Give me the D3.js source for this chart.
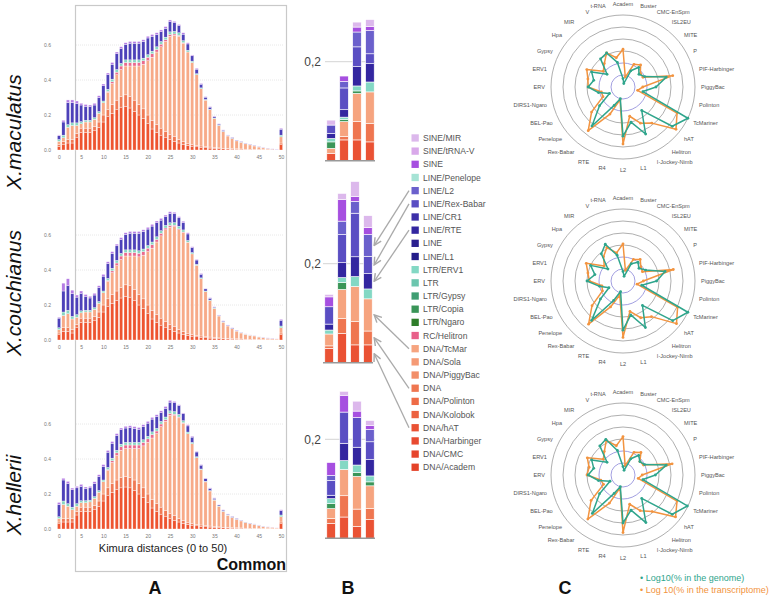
<!DOCTYPE html>
<html>
<head>
<meta charset="utf-8">
<script src="https://cdn.jsdelivr.net/npm/d3@7"></script>
<style>
  body { margin: 0; background: #fff; }
  svg { display: block; font-family: "Liberation Sans", Arial, sans-serif; }
</style>
</head>
<body>
<svg id="fig" width="775" height="599"></svg>
<script>
// ---------------- Panel A data (Kimura 0..50) ----------------
const kimura = d3.range(0, 51);
const aKeys = ["hat", "dna", "tcmar", "rc", "ltr", "line", "sine"];
const aColors = { hat: "#ee5430", dna: "#f07a55", tcmar: "#f7aa88", rc: "#ea6a8e", ltr: "#86d6c2", line: "#4d41b9", sine: "#b57ce4" };

const macHat = [.02,.03,.04,.04,.07,.10,.10,.10,.11,.13,.16,.19,.21,.23,.245,.25,.24,.22,.20,.18,.15,.12,.10,.085,.07,.06,.05,.04,.033,.027,.022,.018,.015,.013,.011,.01,.008,.007,.006,.005,.004,.003,.003,.002,.002,.002,.001,.001,.001,.001,.03];
const macDna = [.01,.02,.02,.02,.025,.025,.025,.025,.025,.03,.04,.04,.05,.055,.06,.065,.065,.065,.06,.055,.05,.05,.045,.04,.035,.03,.028,.02,.016,.012,.01,.009,.008,.006,.006,.005,.004,.003,.003,.003,.003,.003,.002,.002,.002,.001,.001,.001,.001,0,.01];
const macTcmar = [.02,.02,.07,.08,.045,.025,.035,.035,.04,.05,.07,.10,.12,.145,.155,.165,.175,.195,.22,.255,.31,.36,.415,.465,.515,.56,.577,.59,.561,.521,.468,.403,.327,.266,.213,.165,.128,.095,.071,.058,.045,.038,.03,.025,.019,.014,.01,.007,.003,.002,.035];
const macRc = [0,0,0,0,0,0,0,0,0,0,0,.005,.01,.015,.02,.02,.02,.02,.02,.02,.02,.02,.015,.015,.01,.01,.008,.005,.003,0,0,0,0,0,0,0,0,0,0,0,0,0,0,0,0,0,0,0,0,0,0];
const macLtr = [.01,.015,.015,.015,.015,.012,.01,.01,.01,.01,.01,.012,.015,.015,.015,.015,.015,.015,.015,.015,.015,.015,.015,.015,.015,.015,.015,.015,.012,.01,.008,.006,.005,.004,.003,.003,.002,.002,.001,.001,.001,.001,.001,.001,.001,.001,.001,0,0,0,.01];
const macLine = [.021,.075,.126,.116,.11,.095,.08,.077,.072,.08,.087,.083,.085,.09,.085,.088,.095,.095,.095,.095,.095,.085,.07,.056,.05,.058,.049,.04,.037,.036,.03,.026,.021,.013,.012,.008,.006,.006,.004,.004,.003,.003,.002,.002,.002,.002,.001,.001,.001,.001,.034];
const macSine = [.005,.01,.015,.015,.015,.01,.01,.01,.01,.01,.01,.01,.01,.01,.01,.01,.01,.01,.01,.01,.01,.01,.01,.01,.01,.01,.008,.007,.008,.007,.005,.005,.004,.003,.003,.002,.002,.002,.001,.001,.001,.001,.001,.001,.001,.001,.001,.001,.001,.001,.005];

const couHat = [.03,.05,.05,.04,.07,.10,.10,.10,.11,.13,.16,.19,.21,.225,.24,.25,.245,.225,.20,.18,.15,.12,.10,.085,.07,.06,.05,.04,.033,.027,.022,.018,.015,.013,.011,.01,.008,.007,.006,.005,.004,.003,.003,.002,.002,.002,.001,.001,.001,.001,.03];
const couDna = [.01,.02,.02,.02,.02,.025,.025,.025,.025,.03,.04,.045,.05,.055,.06,.065,.065,.065,.06,.055,.05,.05,.045,.04,.035,.03,.028,.02,.016,.012,.01,.009,.008,.006,.006,.005,.004,.003,.003,.003,.003,.003,.002,.002,.002,.001,.001,.001,.001,.001,.01];
const couTcmar = [.02,.07,.08,.06,.04,.03,.035,.035,.04,.05,.07,.10,.125,.145,.16,.165,.17,.19,.215,.25,.305,.355,.415,.47,.525,.555,.57,.57,.565,.52,.46,.40,.327,.257,.208,.165,.125,.092,.071,.056,.044,.034,.028,.023,.019,.014,.011,.008,.005,.004,.03];
const couRc = [0,0,0,0,0,0,0,0,0,0,0,.005,.01,.015,.02,.02,.02,.02,.02,.02,.02,.02,.015,.015,.01,.01,.008,.005,.003,0,0,0,0,0,0,0,0,0,0,0,0,0,0,0,0,0,0,0,0,0,0];
const couLtr = [.01,.02,.02,.015,.015,.012,.01,.01,.01,.01,.01,.012,.015,.015,.015,.015,.015,.015,.015,.015,.015,.015,.015,.015,.015,.015,.015,.015,.012,.01,.008,.006,.005,.004,.003,.003,.002,.002,.001,.001,.001,.001,.001,.001,.001,.001,.001,0,0,0,.01];
const couLine = [.055,.12,.14,.13,.10,.10,.08,.07,.072,.08,.085,.085,.085,.083,.08,.088,.095,.095,.10,.10,.094,.091,.08,.06,.049,.053,.051,.048,.042,.037,.028,.024,.021,.012,.011,.005,.002,.004,.003,.003,.003,.001,0,0,0,0,.001,.001,.001,0,.033];
const couSine = [.005,.045,.04,.02,.012,.013,.01,.01,.01,.01,.01,.01,.01,.01,.01,.01,.01,.01,.01,.01,.01,.01,.01,.01,.01,.01,.008,.007,.008,.007,.005,.004,.004,.003,.003,.002,.002,.002,.002,.002,.002,.001,.001,.001,.001,.001,.001,.001,.001,.001,.005];

const helHat = [.03,.04,.04,.04,.08,.10,.10,.10,.11,.13,.16,.19,.21,.225,.235,.24,.235,.22,.20,.18,.15,.12,.10,.085,.07,.06,.05,.04,.033,.027,.022,.018,.015,.013,.011,.01,.008,.007,.006,.005,.004,.003,.003,.002,.002,.002,.001,.001,.001,.001,.03];
const helDna = [.01,.02,.02,.02,.02,.025,.025,.025,.025,.03,.04,.045,.05,.055,.06,.06,.06,.06,.06,.055,.05,.05,.045,.04,.035,.03,.028,.02,.016,.012,.01,.009,.008,.006,.006,.005,.004,.003,.003,.003,.003,.003,.002,.002,.002,.001,.001,.001,.001,.001,.01];
const helTcmar = [.02,.08,.07,.05,.03,.025,.025,.03,.04,.05,.07,.10,.12,.14,.155,.16,.165,.18,.20,.24,.295,.35,.40,.46,.51,.56,.57,.575,.555,.505,.455,.38,.315,.25,.20,.15,.118,.09,.07,.058,.048,.04,.033,.026,.022,.017,.012,.009,.007,.004,.03];
const helRc = [0,0,0,0,0,0,0,0,0,0,0,.005,.01,.015,.02,.02,.02,.02,.02,.02,.02,.02,.015,.015,.01,.01,.008,.005,.003,0,0,0,0,0,0,0,0,0,0,0,0,0,0,0,0,0,0,0,0,0,0];
const helLtr = [.01,.02,.015,.015,.015,.012,.012,.01,.01,.01,.01,.012,.015,.015,.015,.015,.015,.015,.015,.015,.015,.015,.015,.015,.015,.015,.015,.015,.012,.01,.008,.006,.005,.004,.003,.003,.002,.002,.001,.001,.001,.001,.001,.001,.001,.001,.001,0,0,0,.01];
const helLine = [.07,.12,.115,.10,.09,.082,.07,.07,.075,.08,.078,.087,.085,.085,.082,.082,.085,.08,.075,.076,.075,.073,.068,.05,.05,.05,.05,.05,.04,.035,.03,.027,.022,.014,.012,.008,.006,.006,.005,.004,.004,.002,.002,.002,.001,.001,.001,.001,0,0,.025];
const helSine = [.012,.01,.012,.009,.009,.011,.008,.009,.01,.01,.01,.01,.01,.01,.01,.01,.01,.01,.01,.01,.01,.01,.01,.01,.01,.01,.008,.005,.004,.007,.005,.004,.003,.003,.003,.002,.001,.002,.001,.001,.001,.001,.001,.001,.001,.001,.001,.001,.001,.001,.005];

const speciesNames = ["X.maculatus", "X.couchianus", "X.hellerii"];

// ---------------- Panel B data (4 bars per species) ----------------
const legendCats = ["SINE/MIR","SINE/tRNA-V","SINE","LINE/Penelope","LINE/L2","LINE/Rex-Babar","LINE/CR1","LINE/RTE","LINE","LINE/L1",
  "LTR/ERV1","LTR","LTR/Gypsy","LTR/Copia","LTR/Ngaro","RC/Helitron","DNA/TcMar","DNA/Sola","DNA/PiggyBac","DNA",
  "DNA/Polinton","DNA/Kolobok","DNA/hAT","DNA/Harbinger","DNA/CMC","DNA/Academ"];
const legendColors = ["#dcb8ec","#d9a9ea","#a64fe0","#a6e3d5","#6b60cc","#5a4ec3","#3d2fa8","#3326a0","#2b1f8f","#241d8a",
  "#83d8c4","#6cc6ae","#3f9e72","#3a9558","#2e7d2a","#e8608a","#f6a47f","#f59a75","#f28e68","#ef7650",
  "#ee6b46","#ec6240","#ea5234","#e84a30","#e6452c","#e44228"];

const bMac = { "DNA/hAT":[.015,.042,.042,.038], "DNA":[0,.007,.037,.037], "DNA/TcMar":[.010,.030,.057,.064],
  "LTR/Copia":[.013,.004,.005,0], "LTR/ERV1":[.007,.005,.010,.020], "LINE/RTE":[.010,.015,.039,.037],
  "LINE/Rex-Babar":[.017,.044,.040,.020], "LINE/L2":[0,.013,.030,.047], "SINE":[0,.011,.010,.008], "SINE/MIR":[.010,0,.010,.014] };
const bCou = { "DNA/hAT":[.029,.059,.036,.036], "DNA":[.005,.030,.047,.028], "DNA/TcMar":[.024,.059,.071,.065],
  "LTR/Copia":[0,.014,0,0], "LTR/ERV1":[.008,.010,.020,.020], "LINE/RTE":[.012,.030,.040,.031],
  "LINE/Rex-Babar":[.035,.057,.088,.035], "LINE/L2":[0,.027,.024,.044], "SINE":[.020,.044,.010,.014], "SINE/MIR":[.005,.012,.030,.024] };
const bHel = { "DNA/hAT":[.030,.043,.024,.038], "DNA":[.010,.043,.035,.022], "DNA/TcMar":[.020,.053,.066,.046],
  "LTR/Copia":[.010,0,.008,.008], "LTR/ERV1":[.010,.018,.015,.012], "LINE/RTE":[.007,.035,.036,.033],
  "LINE/Rex-Babar":[.030,.063,.060,.036], "LINE/L2":[.010,0,0,.025], "SINE":[.026,.034,.013,.008], "SINE/MIR":[0,.008,.020,.010] };
const arrowCats = ["LINE/L2", "LINE/Rex-Babar", "LINE/RTE", "DNA/TcMar", "DNA", "DNA/hAT"];

// ---------------- Panel C data (log10 %) ----------------
const radarCats = ["Academ","Buster","CMC-EnSpm","ISL2EU","MITE","P","PIF-Harbinger","PiggyBac","Polinton","TcMariner","hAT","Helitron",
  "I-Jockey-Nimb","L1","L2","R4","RTE","Rex-Babar","Penelope","BEL-Pao","DIRS1-Ngaro","ERV","ERV1","Gypsy","Hpa","MIR","V","t-RNA"];
const macGenome = [-4.3,-4.7,-3.5,-2.9,-3.3,-3.0,-1.3,-2.25,-3.3,1.0,0.25,-2.5,-0.65,-2.0,-0.9,-4.0,-3.3,-0.85,-2.5,-3.75,-2.9,-2.1,-2.5,-2.1,-3.3,-2.0,-1.85,-2.9];
const macTransc = [-1.85,-4.15,-2.9,-2.65,-3.15,-3.15,-0.75,-3.35,-3.75,0.0,0.65,-1.15,-1.65,-2.5,-0.25,-3.9,-2.5,-0.35,-1.65,-3.15,-3.15,-2.1,-2.0,-1.65,-2.9,-2.5,-1.85,-2.5];
const couGenome = [-4.2,-4.6,-3.4,-3.0,-3.3,-2.9,-1.4,-2.2,-3.4,1.0,0.3,-2.4,-0.7,-2.1,-0.9,-4.1,-3.2,-0.8,-2.6,-3.7,-3.0,-2.0,-2.6,-2.0,-3.4,-2.1,-1.6,-2.8];
const couTransc = [-1.9,-4.1,-3.0,-2.7,-3.1,-3.2,-0.7,-3.3,-3.8,0.05,0.7,-1.2,-1.6,-2.4,-0.3,-3.8,-2.6,-0.4,-1.7,-3.1,-3.2,-2.2,-2.0,-1.6,-3.0,-2.4,-1.9,-2.6];
const helGenome = [-4.3,-4.6,-3.5,-2.9,-3.2,-3.0,-1.3,-2.3,-3.3,0.95,0.25,-2.5,-0.6,-2.0,-1.0,-4.0,-3.3,-0.9,-2.5,-3.8,-2.9,-2.1,-2.5,-2.1,-3.3,-1.9,-1.7,-2.9];
const helTransc = [-1.8,-4.2,-2.9,-2.6,-3.2,-3.1,-0.8,-3.4,-3.7,0.0,0.6,-1.1,-1.7,-2.5,-0.2,-3.9,-2.4,-0.3,-1.6,-3.2,-3.1,-2.0,-2.1,-1.7,-2.9,-2.5,-1.8,-2.5];
const radarTicks = [-4, -3, -2, -1, 0, 1];
const seriesNames = ["Log10(% in the genome)", "Log 10(% in the transcriptome)"];
const seriesColors = ["#2fa58c", "#f29440"];

const svg = d3.select("#fig");

// ================= Panel A =================
const aLayout = [
  { base: 150, label: 132, s: { hat: macHat, dna: macDna, tcmar: macTcmar, rc: macRc, ltr: macLtr, line: macLine, sine: macSine } },
  { base: 340, label: 293, s: { hat: couHat, dna: couDna, tcmar: couTcmar, rc: couRc, ltr: couLtr, line: couLine, sine: couSine } },
  { base: 529, label: 495, s: { hat: helHat, dna: helDna, tcmar: helTcmar, rc: helRc, ltr: helLtr, line: helLine, sine: helSine } }
];

svg.append("rect").attr("x", 75.5).attr("y", 5.5).attr("width", 211).attr("height", 566)
  .attr("fill", "none").attr("stroke", "#c9c9c9").attr("stroke-width", 1.2);

const xA = d3.scaleLinear().domain([0, 50]).range([59, 281]);

aLayout.forEach((sp, si) => {
  const y = d3.scaleLinear().domain([0, 0.8]).range([sp.base, sp.base - 140]);
  const g = svg.append("g");

  g.selectAll("line.grid").data([0.2, 0.4, 0.6]).join("line")
    .attr("x1", 76).attr("x2", 284).attr("y1", d => y(d)).attr("y2", d => y(d))
    .attr("stroke", "#e2e2e2").attr("stroke-width", 0.8).attr("stroke-dasharray", "1,1");

  const rows = kimura.map(k => { const r = { k }; aKeys.forEach(key => r[key] = sp.s[key][k]); return r; });
  const stacked = d3.stack().keys(aKeys)(rows);
  g.selectAll("g.layer").data(stacked).join("g")
    .attr("fill", d => aColors[d.key])
    .selectAll("rect").data(d => d).join("rect")
    .attr("x", d => xA(d.data.k) - 1.6).attr("width", 3.2)
    .attr("y", d => y(d[1])).attr("height", d => Math.max(0, y(d[0]) - y(d[1])))
    .attr("stroke", "#fff").attr("stroke-width", 0.35);

  const yAx = g.append("g").attr("transform", "translate(51,0)")
    .call(d3.axisLeft(y).tickValues([0, 0.2, 0.4, 0.6]).tickFormat(d3.format(".1f")).tickSize(0).tickPadding(0));
  yAx.select(".domain").remove();
  yAx.selectAll("text").attr("font-size", 5).attr("fill", "#777").attr("font-family", "Liberation Sans, Arial");

  const xAx = g.append("g").attr("transform", `translate(0,${sp.base + 3})`)
    .call(d3.axisBottom(xA).tickValues(d3.range(0, 51, 5)).tickSize(0).tickPadding(2));
  xAx.select(".domain").remove();
  xAx.selectAll("text").attr("font-size", 5).attr("fill", "#777").attr("font-family", "Liberation Sans, Arial");

  svg.append("text").attr("transform", `translate(21,${sp.label}) rotate(-90)`)
    .attr("text-anchor", "middle").attr("font-size", 21).attr("font-style", "italic").attr("fill", "#111")
    .text(speciesNames[si]);
});

svg.append("text").attr("x", 163).attr("y", 552).attr("text-anchor", "middle")
  .attr("font-size", 11).attr("fill", "#222").text("Kimura distances (0 to 50)");
svg.append("text").attr("x", 286).attr("y", 570).attr("text-anchor", "end")
  .attr("font-size", 16).attr("font-weight", "bold").attr("fill", "#111").text("Common");

// ================= Panel B =================
const stackOrder = legendCats.slice().reverse();
const colorB = d3.scaleOrdinal().domain(legendCats).range(legendColors);
const bLayout = [
  { base: 160.7, x0: 325, data: bMac },
  { base: 362.7, x0: 323, data: bCou },
  { base: 538.3, x0: 325, data: bHel }
];
let arrowTargets = {};

bLayout.forEach((grp, gi) => {
  const y = d3.scaleLinear().domain([0, 0.2]).range([grp.base, grp.base - 99]);
  const x = d3.scaleBand().domain([0, 1, 2, 3]).range([grp.x0 + 0.5, grp.x0 + 50.5]).paddingInner(0.34).paddingOuter(0.1);
  const g = svg.append("g");
  g.append("line").attr("x1", grp.x0).attr("x2", grp.x0 + 50).attr("y1", y(0.2)).attr("y2", y(0.2))
    .attr("stroke", "#cfcfcf").attr("stroke-width", 0.9);
  g.append("text").attr("x", 321).attr("y", y(0.2)).attr("dy", "0.35em").attr("text-anchor", "end")
    .attr("font-size", 12).attr("fill", "#444").text("0,2");

  const rows = [0, 1, 2, 3].map(i => { const r = { i }; stackOrder.forEach(c => r[c] = grp.data[c] ? grp.data[c][i] : 0); return r; });
  const stacked = d3.stack().keys(stackOrder)(rows);
  g.selectAll("g.layer").data(stacked).join("g")
    .attr("fill", d => colorB(d.key))
    .selectAll("rect").data(d => d.filter(p => p[1] - p[0] > 0)).join("rect")
    .attr("x", d => x(d.data.i)).attr("width", x.bandwidth())
    .attr("y", d => y(d[1])).attr("height", d => y(d[0]) - y(d[1]))
    .attr("stroke", "#fff").attr("stroke-width", 0.6);

  g.append("line").attr("x1", grp.x0).attr("x2", grp.x0 + 50).attr("y1", grp.base).attr("y2", grp.base)
    .attr("stroke", "#999").attr("stroke-width", 1.4);

  if (gi === 1) {
    stacked.forEach(layer => {
      if (arrowCats.includes(layer.key)) {
        const p = layer[3];
        arrowTargets[layer.key] = { x: x(3) + x.bandwidth() + 2, y: y((p[0] + p[1]) / 2) };
      }
    });
  }
});

// legend
const yLeg = d3.scalePoint().domain(legendCats).range([138, 467.3]);
const leg = svg.append("g");
leg.selectAll("rect").data(legendCats).join("rect")
  .attr("x", 411.5).attr("y", d => yLeg(d) - 3.7).attr("width", 7.3).attr("height", 7.3)
  .attr("fill", (d, i) => legendColors[i]);
leg.selectAll("text").data(legendCats).join("text")
  .attr("x", 423).attr("y", d => yLeg(d)).attr("dy", "0.35em")
  .attr("font-size", 8.6).attr("fill", "#555").text(d => d);

// arrows
svg.append("defs").append("marker").attr("id", "ah").attr("viewBox", "0 0 10 10")
  .attr("refX", 9).attr("refY", 5).attr("markerWidth", 7).attr("markerHeight", 7).attr("orient", "auto")
  .append("path").attr("d", "M1,1 L9,5 L1,9").attr("fill", "none").attr("stroke", "#aaa").attr("stroke-width", 1.6);
svg.append("g").selectAll("line").data(arrowCats).join("line")
  .attr("x1", 409).attr("y1", d => yLeg(d))
  .attr("x2", d => arrowTargets[d].x).attr("y2", d => arrowTargets[d].y)
  .attr("stroke", "#aaa").attr("stroke-width", 1.3).attr("marker-end", "url(#ah)");

// ================= Panel C =================
const rScale = d3.scaleLinear().domain([-5, 1]).range([0, 72]);
const aScale = d3.scaleLinear().domain([0, radarCats.length]).range([0, 2 * Math.PI]);
const radarLayout = [
  { cx: 623, cy: 87, s: [macGenome, macTransc] },
  { cx: 623, cy: 281, s: [couGenome, couTransc] },
  { cx: 623, cy: 475, s: [helGenome, helTransc] }
];

radarLayout.forEach(rd => {
  const g = svg.append("g").attr("transform", `translate(${rd.cx},${rd.cy})`);
  g.selectAll("circle.ring").data(radarTicks).join("circle")
    .attr("r", d => rScale(d)).attr("fill", "none")
    .attr("stroke", d => d <= -3 ? "#8a86d8" : "#9a9a9a").attr("stroke-width", 0.8);

  g.selectAll("text.lab").data(radarCats).join("text")
    .attr("x", (d, i) => 78 * Math.sin(aScale(i)))
    .attr("y", (d, i) => -83 * Math.cos(aScale(i)))
    .attr("dy", "0.35em")
    .attr("text-anchor", (d, i) => { const s = Math.sin(aScale(i)); return s > 0.15 ? "start" : s < -0.15 ? "end" : "middle"; })
    .attr("font-size", 5.6).attr("fill", "#555").text(d => d);

  const line = d3.lineRadial().angle((d, i) => aScale(i)).radius(d => rScale(d)).curve(d3.curveLinearClosed);
  [1, 0].forEach(si => {
    g.append("path").attr("d", line(rd.s[si])).attr("fill", "none")
      .attr("stroke", seriesColors[si]).attr("stroke-width", 1.5).attr("stroke-linejoin", "round");
    g.selectAll(null).data(rd.s[si]).join("circle")
      .attr("cx", (d, i) => rScale(d) * Math.sin(aScale(i)))
      .attr("cy", (d, i) => -rScale(d) * Math.cos(aScale(i)))
      .attr("r", 1.4).attr("fill", seriesColors[si]);
  });
});

svg.append("g").selectAll("text").data(seriesNames).join("text")
  .attr("x", 640).attr("y", (d, i) => 581 + i * 11.5)
  .attr("font-size", 9).attr("fill", (d, i) => seriesColors[i])
  .text(d => "\u2022 " + d);

// panel letters
svg.append("g").selectAll("text").data([["A", 155], ["B", 348], ["C", 565]]).join("text")
  .attr("x", d => d[1]).attr("y", 594).attr("text-anchor", "middle")
  .attr("font-size", 18).attr("font-weight", "bold").attr("fill", "#111").text(d => d[0]);
</script>
</body>
</html>
